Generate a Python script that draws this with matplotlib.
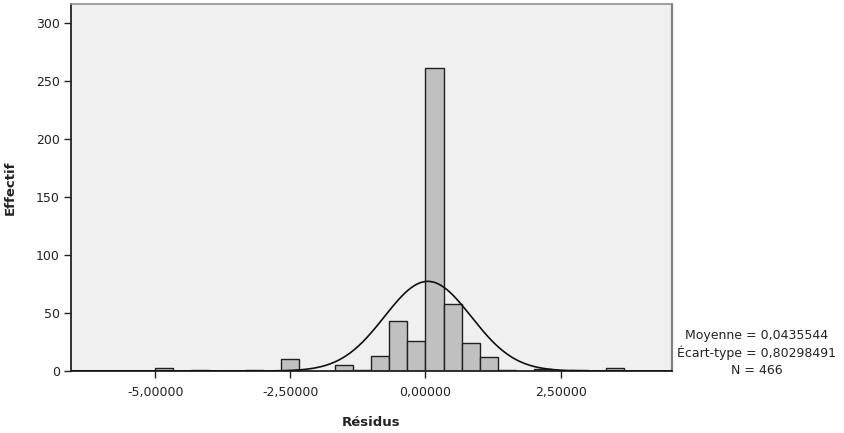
import numpy as np
import matplotlib
matplotlib.use("Agg")
import matplotlib.pyplot as plt
from matplotlib.ticker import FuncFormatter

# Histogram data (bin width = 1/3)
bin_left_edges = [-5.0, -13/3, -10/3, -8/3, -5/3, -4/3, -1.0, -2/3, -1/3, 0.0,
                  1/3, 2/3, 1.0, 4/3, 2.0, 8/3, 10/3]
counts = [3, 1, 1, 10, 5, 1, 13, 43, 26, 261, 58, 24, 12, 1, 2, 1, 3]
bin_width = 1/3
mean = 0.0435544
sd = 0.80298491
n_total = 466
x_ticks = [-5.0, -2.5, 0.0, 2.5]
y_ticks = [0, 50, 100, 150, 200, 250, 300]

fam = ['Liberation Sans Narrow', 'DejaVu Sans']
plt.rcParams['font.family'] = fam

fig = plt.figure(figsize=(8.45, 4.33), dpi=100)
fig.patch.set_facecolor('white')
ax = fig.add_axes([71/845, 62/433, (672-71)/845, (371-4)/433])
ax.set_facecolor('#F0F0F0')

ax.bar(bin_left_edges, counts, width=bin_width, align='edge',
       color='#C0C0C0', edgecolor='#202020', linewidth=1.0, zorder=2)

xs = np.linspace(-6.6, 4.6, 600)
ys = n_total * bin_width / (sd * np.sqrt(2*np.pi)) * np.exp(-0.5*((xs-mean)/sd)**2)
ax.plot(xs, ys, color='#111111', linewidth=1.2, zorder=3)

ax.set_xlim(-6.556, 4.559)
ax.set_ylim(0, 316)
ax.set_xticks(x_ticks)
ax.set_yticks(y_ticks)
ax.xaxis.set_major_formatter(FuncFormatter(lambda v, p: f"{v:.5f}".replace('.', ',')))
ax.tick_params(axis='both', direction='out', length=5, width=1.0, labelsize=9,
               color='#222222', labelcolor='#222222', pad=3)
ax.tick_params(axis='x', pad=6)

for s in ['left', 'bottom']:
    ax.spines[s].set_color('#222222')
    ax.spines[s].set_linewidth(1.3)
ax.spines['top'].set_color('#909090')
ax.spines['top'].set_linewidth(1.2)
ax.spines['right'].set_color('#808080')
ax.spines['right'].set_linewidth(1.6)

ax.set_xlabel('Résidus', fontsize=9.5, fontweight='bold', color='#222222', labelpad=12)
ax.set_ylabel('Effectif', fontsize=9.5, fontweight='bold', color='#222222', labelpad=14)

fig.text(757/845, 1-335/433, 'Moyenne = 0,0435544', ha='center', va='center', fontsize=9, color='#222222')
fig.text(757/845, 1-353/433, 'Écart-type = 0,80298491', ha='center', va='center', fontsize=9, color='#222222')
fig.text(757/845, 1-370/433, 'N = 466', ha='center', va='center', fontsize=9, color='#222222')

fig.savefig('out.png', dpi=100, facecolor='white')
